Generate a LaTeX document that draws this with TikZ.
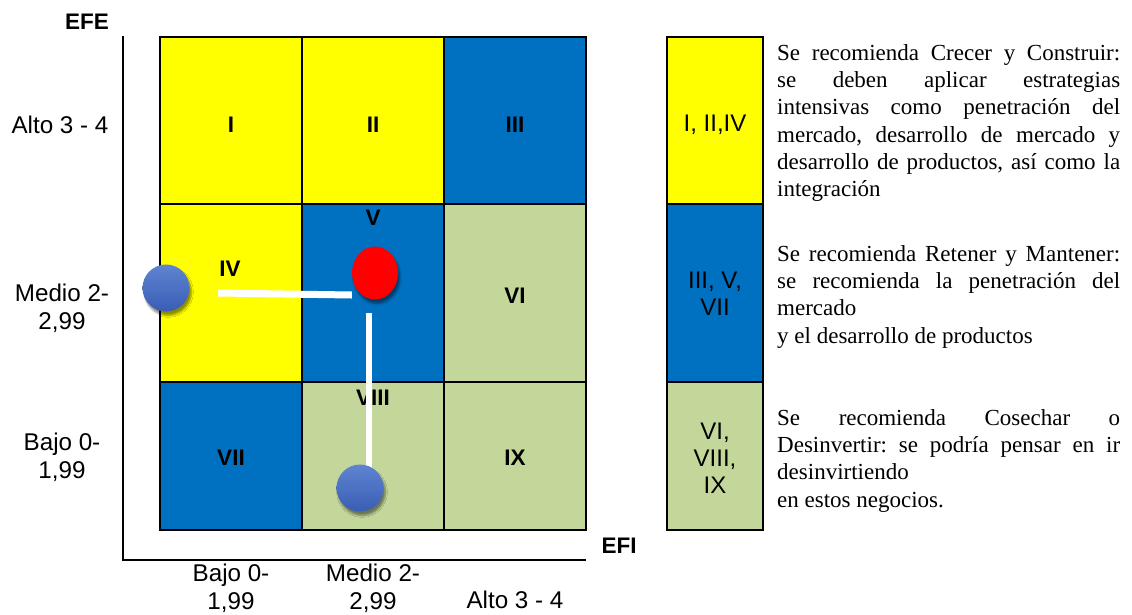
\documentclass[tikz,border=0pt]{standalone}
\usepackage{fontspec}
\setmainfont{Liberation Serif}
\setsansfont{Liberation Sans}
\usetikzlibrary{positioning, shapes.geometric, shadows.blur}

\definecolor{cellyellow}{HTML}{FFFF00}
\definecolor{cellblue}{HTML}{0070C0}
\definecolor{cellgreen}{HTML}{C4D79B}
\definecolor{balltop}{HTML}{5F84D0}
\definecolor{ballbottom}{HTML}{3A5DB5}

\tikzset{
  cell/.style={draw=black, line width=2.5pt},
  romanlbl/.style={font=\sffamily\bfseries\fontsize{22.5}{27}\selectfont, inner sep=0pt},
  axislbl/.style={font=\sffamily\fontsize{24.2}{28}\selectfont, align=center, inner sep=0pt},
  keylbl/.style={font=\sffamily\fontsize{24}{27}\selectfont, align=center, inner sep=0pt},
  advice/.style={font=\rmfamily\fontsize{23}{27.3}\selectfont,
    execute at begin node={\hyphenpenalty=10000\relax\frenchspacing},
    text width=343pt, align=justify, anchor=north west, inner sep=0pt},
  ball/.style={circle, minimum size=47pt, inner sep=0pt,
    blur shadow={shadow xshift=2pt, shadow yshift=-4pt, shadow blur steps=6, shadow opacity=45}},
  whiteline/.style={draw=white, line width=7pt},
}

\begin{document}
\begin{tikzpicture}[x=1pt, y=-1pt]
    \useasboundingbox (0,0) rectangle (1132,614);

    % Matrix cells, top row
    \filldraw[cell, fill=cellyellow] (160,37) rectangle (302,204);
    \filldraw[cell, fill=cellyellow] (302,37) rectangle (444,204);
    \filldraw[cell, fill=cellblue]   (444,37) rectangle (586,204);
    % middle row
    \filldraw[cell, fill=cellyellow] (160,204) rectangle (302,382);
    \filldraw[cell, fill=cellblue]   (302,204) rectangle (444,382);
    \filldraw[cell, fill=cellgreen]  (444,204) rectangle (586,382);
    % bottom row
    \filldraw[cell, fill=cellblue]   (160,382) rectangle (302,530);
    \filldraw[cell, fill=cellgreen]  (302,382) rectangle (444,530);
    \filldraw[cell, fill=cellgreen]  (444,382) rectangle (586,530);

    % Axes
    \draw[line width=2.5pt] (123,36) -- (123,560) -- (586,560);
    \node[romanlbl] (efe) at (87,22) {EFE};
    \node[romanlbl] (efi) at (619,546) {EFI};

    % Axis scale labels
    \node[axislbl] (altoY)  at (60,125) {Alto 3 - 4};
    \node[axislbl] (medioY) at (62,308) {Medio 2-\\2,99};
    \node[axislbl] (bajoY)  at (62,457) {Bajo 0-\\1,99};
    \node[axislbl] (bajoX)  at (231,588) {Bajo 0-\\1,99};
    \node[axislbl] (medioX) at (373,588) {Medio 2-\\2,99};
    \node[axislbl] (altoX)  at (515,600) {Alto 3 - 4};

    % Cell numbers
    \node[romanlbl] (c1) at (231,125) {I};
    \node[romanlbl] (c2) at (373,125) {II};
    \node[romanlbl] (c3) at (515,125) {III};
    \node[romanlbl] (c4) at (230,269) {IV};
    \node[romanlbl] (c5) at (373,218) {V};
    \node[romanlbl] (c6) at (515,296) {VI};
    \node[romanlbl] (c7) at (231,458) {VII};
    \node[romanlbl] (c8) at (373,398) {VIII};
    \node[romanlbl] (c9) at (515,458) {IX};

    % Position markers and their links
    \node[ball, shading=axis, top color=balltop, bottom color=ballbottom] (posA) at (166,288) {};
    \node[ball, ellipse, fill=red, minimum width=46pt, minimum height=53pt] (posNow) at (375,273) {};
    \coordinate (linkStart) at (218,293);
    \draw[whiteline] (linkStart) -- ([yshift=-22pt]posNow.west);
    \draw[whiteline, line width=6pt] ([xshift=-6pt, yshift=-13pt]posNow.south) -- (369,470);
    \node[ball, shading=axis, top color=balltop, bottom color=ballbottom] (posB) at (360,488) {};

    % Key column
    \filldraw[cell, fill=cellyellow] (667,37) rectangle (763,204);
    \filldraw[cell, fill=cellblue]   (667,204) rectangle (763,382);
    \filldraw[cell, fill=cellgreen]  (667,382) rectangle (763,530);
    \node[keylbl] (keyGrow) at (715,125) {I, II,IV};
    \node[keylbl] (keyHold) at (715,294) {III, V,\\VII};
    \node[keylbl] (keyHarvest) at (715,458) {VI,\\VIII,\\IX};

    % Recommendations
    \node[advice] (advGrow) at (777,44) {Se recomienda Crecer y Construir:\linebreak
      se deben aplicar estrategias\linebreak
      intensivas como penetración del\linebreak
      mercado, desarrollo de mercado y\linebreak
      desarrollo de productos, así como la\linebreak
      integración};
    \node[advice] (advHold) at (777,245) {Se recomienda Retener y Mantener:\linebreak
      se recomienda la penetración del\linebreak
      mercado\\y el desarrollo de productos};
    \node[advice] (advHarvest) at (777,409) {Se recomienda Cosechar o\linebreak
      Desinvertir: se podría pensar en ir\linebreak
      desinvirtiendo\\en estos negocios.};

\end{tikzpicture}
\end{document}
